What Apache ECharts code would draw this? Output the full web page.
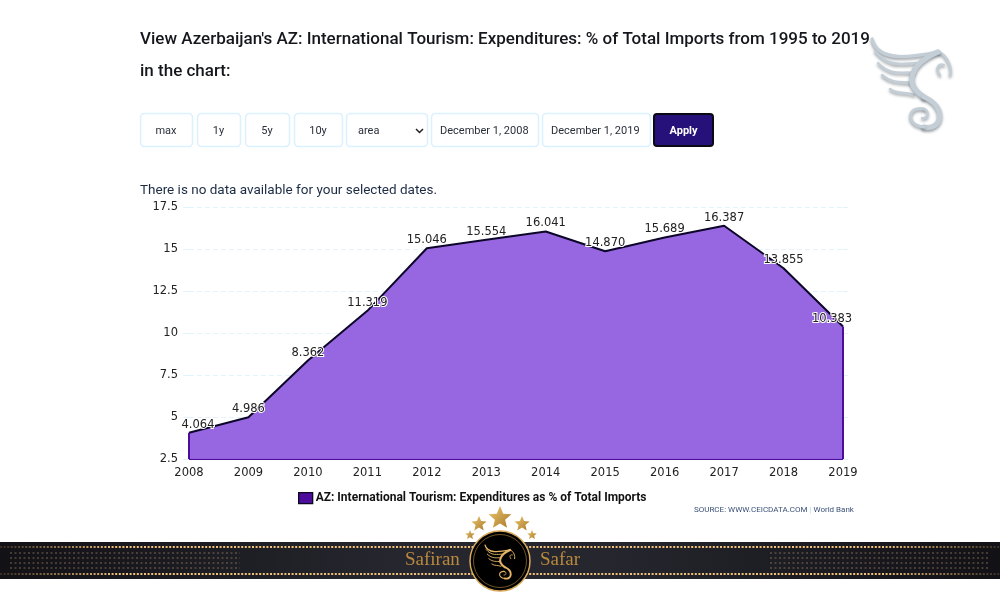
<!DOCTYPE html>
<html>
<head>
<meta charset="utf-8">
<title>AZ: International Tourism: Expenditures</title>
<script src="https://cdn.jsdelivr.net/npm/echarts@6/dist/echarts.min.js"></script>
<style>html,body{margin:0;padding:0;background:#fff}#c{width:1000px;height:600px}</style>
</head>
<body>
<div id="c"></div>
<script>
const years = ['2008','2009','2010','2011','2012','2013','2014','2015','2016','2017','2018','2019'];
const values = [4.064,4.986,8.362,11.319,15.046,15.554,16.041,14.870,15.689,16.387,13.855,10.383];
const seriesName = 'AZ: International Tourism: Expenditures as % of Total Imports';
const titleLines = ["View Azerbaijan's AZ: International Tourism: Expenditures: % of Total Imports from 1995 to 2019", 'in the chart:'];
const noData = 'There is no data available for your selected dates.';
const buttons = [
  {t:'max',x:140,w:52,c:1},{t:'1y',x:197,w:43,c:1},{t:'5y',x:245,w:44,c:1},{t:'10y',x:294,w:48,c:1},
  {t:'area',x:346,w:81,l:358},{t:'December 1, 2008',x:431,w:107,l:440},{t:'December 1, 2019',x:542,w:108,l:551}
];
const UI = 'Roboto,"Noto Sans",sans-serif';
const AX = '"DejaVu Sans",sans-serif';
const g = [];
const text = (t,x,y,font,fill,align,extra) => g.push({type:'text',z:20,silent:true,style:Object.assign({text:t,x:x,y:y,font:font,fill:fill,align:align||'left',verticalAlign:'middle'},extra||{})});

text(titleLines[0],140,40,'500 17px '+UI,'#15171c');
text(titleLines[1],140,72,'500 17px '+UI,'#15171c');
buttons.forEach(b=>{
  g.push({type:'rect',silent:true,shape:{x:b.x+.5,y:113.5,width:b.w,height:33,r:4},style:{fill:'#fff',stroke:'#dcf1ff',lineWidth:1.6}});
  text(b.t,b.c?b.x+b.w/2:b.l,131,'11px '+UI,'#2a2f3a',b.c?'center':'left');
});
g.push({type:'polyline',silent:true,shape:{points:[[416,129],[419.5,132.5],[423,129]]},style:{fill:'none',stroke:'#222',lineWidth:1.5}});
g.push({type:'rect',silent:true,shape:{x:654,y:114,width:59,height:32,r:3},style:{fill:'#26107a',stroke:'#0a0a14',lineWidth:2}});
text('Apply',683.5,131,'bold 11px '+UI,'#fff','center');
text(noData,140,191,'13.5px '+UI,'#1c2b44');
text('{a|SOURCE: WWW.CEICDATA.COM} {b||} {a|World Bank}',694,510,'8px '+UI,'#3b5078','left',{rich:{a:{font:'8px '+UI,fill:'#3b5078'},b:{font:'8px '+UI,fill:'#a9d4f0'}}});

/* footer band */
g.push({type:'rect',silent:true,z:5,shape:{x:0,y:542,width:1000,height:37},style:{fill:{type:'linear',x:0,y:0,x2:1,y2:0,colorStops:[{offset:0,color:'#111116'},{offset:.4,color:'#26262e'},{offset:.6,color:'#26262e'},{offset:1,color:'#111116'}]}}});
const dotFade = {type:'linear',x:0,y:0,x2:1,y2:0,colorStops:[{offset:0,color:'rgba(242,190,110,.15)'},{offset:.12,color:'#f2c27a'},{offset:.88,color:'#f2c27a'},{offset:1,color:'rgba(242,190,110,.15)'}]};
[547,574].forEach(y=>g.push({type:'line',silent:true,z:6,shape:{x1:0,y1:y,x2:1000,y2:y},style:{stroke:dotFade,lineWidth:2.2,lineDash:[2,1.6]}}));
[553,558,563,568].forEach(y=>{
  [[10,240],[770,990]].forEach(r=>g.push({type:'line',silent:true,z:6,shape:{x1:r[0],y1:y,x2:r[1],y2:y},style:{stroke:'rgba(200,170,125,.28)',lineWidth:2,lineDash:[2,2.5]}}));
});
text('Safiran',405,560,'19px "Liberation Serif",serif','#b98a3e',undefined,{});
text('Safar',540,560,'19px "Liberation Serif",serif','#b98a3e',undefined,{});

const star=(cx,cy,r)=>{const p=[];for(let i=0;i<10;i++){const a=-Math.PI/2+i*Math.PI/5,q=i%2?r*.45:r;p.push([cx+q*Math.cos(a),cy+q*Math.sin(a)]);}
  g.push({type:'polygon',silent:true,z:7,shape:{points:p},style:{fill:{type:'linear',x:0,y:0,x2:1,y2:1,colorStops:[{offset:0,color:'#ecc86e'},{offset:1,color:'#a9782a'}]}}});};
star(500,518,12);star(479,524,8);star(522,524,8);star(470,535,5);star(532,535,5);
g.push({type:'circle',silent:true,z:7,shape:{cx:500,cy:561,r:30},style:{fill:'#000',stroke:'#d7a95c',lineWidth:1.5}});
g.push({type:'circle',silent:true,z:7,shape:{cx:500,cy:561,r:26.5},style:{fill:'none',stroke:'#8d6a30',lineWidth:.8}});

/* winged S emblem; local coordinates follow the logo crop */
const wing=(px,py,s,col,lw,shadow)=>{
  const c=[];
  const curve=(a,b,d,e,w)=>c.push({type:'bezierCurve',shape:{x1:a[0],y1:a[1],cpx1:b[0],cpy1:b[1],cpx2:d[0],cpy2:d[1],x2:e[0],y2:e[1]},style:{fill:'none',stroke:col,lineWidth:w||lw,lineCap:'round',shadowBlur:shadow,shadowColor:'rgba(70,80,90,.55)',shadowOffsetY:shadow?2:0}});
  curve([0,0],[6,24],[40,18],[66,13],2*lw);
  curve([66,13],[76,16],[80,30],[78,36],1.6*lw);
  curve([3,12],[18,30],[32,24],[46,24],1.5*lw);
  curve([6,24],[20,38],[30,32],[42,34],1.5*lw);
  curve([10,36],[22,46],[30,42],[40,44],1.5*lw);
  curve([18,50],[26,56],[34,52],[42,56],1.5*lw);
  curve([66,13],[40,24],[30,44],[52,58],3.4*lw);
  curve([52,58],[76,68],[70,92],[52,88],3.2*lw);
  curve([52,88],[32,86],[36,66],[52,70],1.8*lw);
  curve([52,70],[58,72],[56,80],[50,79],1.4*lw);
  curve([68,36],[62,28],[68,24],[72,26],1.4*lw);
  g.push({type:'group',silent:true,z:8,x:px,y:py,scaleX:s,scaleY:s,children:c.map(e=>Object.assign(e,{z:8,silent:true}))});
};
wing(872,39,1,'#c3ced6',1.6,3);
wing(485,545,.38,'#e3b466',1.6,0);

const chartData = values.map((v,i)=>({
  value:v,
  label:{offset:[i===0?9:(i===values.length-1?-11:0),0]}
}));
const edge = i => [{coord:[i,2.5]},{coord:[i,values[i]]}];

const chart = echarts.init(document.getElementById('c'),null,{renderer:'canvas'});
chart.setOption({
  animation:false,
  backgroundColor:'#fff',
  graphic:{elements:g},
  grid:{left:189,top:207,width:654,height:252,containLabel:false},
  legend:{
    left:293,top:487,itemWidth:14,itemHeight:11,itemGap:4,
    icon:'rect',
    itemStyle:{color:'#4b0d9a',borderColor:'#0b0820',borderWidth:1.3},
    lineStyle:{opacity:0},
    textStyle:{fontFamily:UI,fontWeight:'bold',fontSize:12,color:'#111',padding:[0,0,0,-2]},
    data:[seriesName]
  },
  xAxis:{
    type:'category',data:years,boundaryGap:false,
    axisLine:{lineStyle:{color:'#4b0d9a',width:2}},
    axisTick:{show:false},
    axisLabel:{fontFamily:AX,fontSize:11.5,color:'#222',margin:8,showMinLabel:true,showMaxLabel:true,interval:0},
    splitLine:{show:false}
  },
  yAxis:[{
    type:'value',min:2.5,max:17.5,interval:2.5,
    axisLine:{show:false},
    axisTick:{show:true,length:6,lineStyle:{color:'#e2f4fb',width:1}},
    axisLabel:{fontFamily:AX,fontSize:11.5,color:'#222',margin:11,padding:[3,0,0,0]},
    splitLine:{show:true,lineStyle:{color:'#e2f4fb',type:[5,3],width:1}}
  },{
    type:'value',position:'right',min:2.5,max:17.5,interval:2.5,
    axisLine:{show:false},
    axisTick:{show:true,length:5,lineStyle:{color:'#e2f4fb',width:1}},
    axisLabel:{show:false},
    splitLine:{show:false}
  }],
  series:[{
    name:seriesName,type:'line',data:chartData,
    symbol:'circle',symbolSize:0,showSymbol:true,showAllSymbol:true,
    itemStyle:{color:'#4b0d9a'},
    lineStyle:{color:'#0c0628',width:2},
    areaStyle:{color:'#9461e0',opacity:.97,origin:'start'},
    label:{
      show:true,position:'top',distance:2,
      formatter:p=>p.value.toFixed(3),
      fontFamily:AX,fontSize:11.5,color:'#222',
      textBorderColor:'#fff',textBorderWidth:2
    },
    markLine:{
      silent:true,symbol:'none',label:{show:false},
      lineStyle:{color:'#4b0d9a',width:2,type:'solid'},
      data:[edge(0),edge(values.length-1)]
    },
    z:3
  }]
});
</script>
</body>
</html>
